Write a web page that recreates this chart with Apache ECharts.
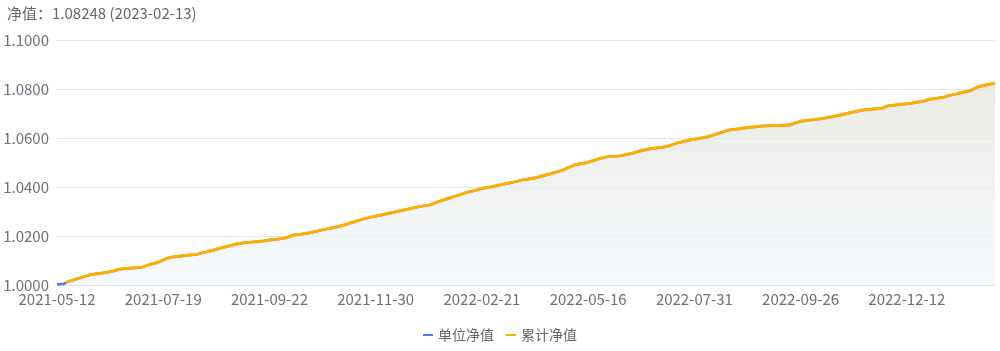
<!DOCTYPE html>
<html>
<head>
<meta charset="utf-8">
<script src="https://cdn.jsdelivr.net/npm/echarts@6/dist/echarts.min.js"></script>
<style>
html,body{margin:0;padding:0;background:#fff;}
#chart{width:1000px;height:351px;}
</style>
</head>
<body>
<div id="chart"></div>
<script>
// Dates present in the series, grouped by month (day numbers)
const monthDays = [
  "2021-05|12 13 14 17 18 19 20 21 24 25 26 27 28 31",
  "2021-06|1 2 3 4 7 8 9 10 11 15 16 17 18 21 22 23 24 25 28 29 30",
  "2021-07|1 2 5 6 7 8 9 12 13 14 15 16 19 20 21 22 23 26 27 28 29 30",
  "2021-08|2 3 4 5 6 9 10 11 12 13 16 17 18 19 20 23 24 25 26 27 30 31",
  "2021-09|1 2 3 6 7 8 9 10 13 14 15 16 17 20 21 22 23 24 26 27 28 29 30",
  "2021-10|8 9 11 12 13 14 15 18 19 20 21 22 25 26 27 28 29 31",
  "2021-11|1 2 3 4 5 8 9 10 11 12 15 16 17 18 19 22 23 24 25 26 29 30",
  "2021-12|1 2 3 6 7 8 9 10 13 14 15 16 17 20 21 22 23 27 28 29 30",
  "2022-01|4 5 6 7 10 11 12 13 14 17 18 19 20 21 24 25 26 27",
  "2022-02|10 11 14 15 16 17 18 21 22 23 24 25 28",
  "2022-03|1 2 3 7 8 9 10 14 15 16 17 21 22 23 24 28 29 30 31",
  "2022-04|6 7 11 12 13 14 18 19 20 21 25 26 27 28 29",
  "2022-05|5 6 9 10 11 12 13 16 17 18 19 23 24 25 26 30 31",
  "2022-06|1 2 6 7 8 9 13 14 15 16 20 21 22 23 27 28 29 30",
  "2022-07|1 4 5 6 7 11 12 13 14 18 19 20 21 22 25 26 27 28 29 31",
  "2022-08|1 2 3 4 5 7 8 9 10 11 12 14 15 16 17 18 19 21 22 23 24 25 26 28 29 30 31",
  "2022-09|1 2 4 5 6 7 8 9 11 12 13 14 15 16 19 20 21 22 23 26 27 28 29 30",
  "2022-10|10 11 12 13 17 18 19 20 21 24 25 26 27 28 31",
  "2022-11|1 2 3 4 7 8 9 10 14 15 16 17 18 21 22 23 24 25 28 29 30",
  "2022-12|1 2 5 6 7 8 12 13 14 15 16 19 20 21 22 23 26 27 28 29 30",
  "2023-01|3 4 5 6 9 10 11 12 13 16 17 18 19 20 30 31",
  "2023-02|1 2 3 6 7 8 9 10 13"
];

// 单位净值 (unit NAV), one value per date
const unitNav = [
1.0003,1.0003,1.0004,1.0004,1.0010,1.0014,1.0017,1.0020,1.0023,1.0026,
1.0028,1.0031,1.0034,1.0037,1.0040,1.0042,1.0043,1.0045,1.0046,1.0047,
1.0049,1.0050,1.0052,1.0053,1.0055,1.0057,1.0060,1.0062,1.0064,1.0066,
1.0067,1.0067,1.0068,1.0069,1.0069,1.0070,1.0071,1.0072,1.0074,1.0077,
1.0080,1.0083,1.0086,1.0088,1.0091,1.0094,1.0098,1.0102,1.0106,1.0109,
1.0112,1.0114,1.0115,1.0116,1.0117,1.0118,1.0119,1.0120,1.0121,1.0122,
1.0123,1.0124,1.0125,1.0128,1.0131,1.0133,1.0135,1.0138,1.0140,1.0142,
1.0145,1.0147,1.0149,1.0152,1.0154,1.0157,1.0159,1.0161,1.0164,1.0166,
1.0168,1.0169,1.0171,1.0172,1.0173,1.0174,1.0175,1.0176,1.0177,1.0178,
1.0179,1.0180,1.0181,1.0183,1.0184,1.0185,1.0186,1.0187,1.0188,1.0190,
1.0191,1.0192,1.0195,1.0198,1.0201,1.0204,1.0205,1.0206,1.0207,1.0209,
1.0210,1.0211,1.0213,1.0215,1.0217,1.0219,1.0222,1.0224,1.0226,1.0228,
1.0230,1.0232,1.0234,1.0236,1.0238,1.0240,1.0243,1.0245,1.0248,1.0251,
1.0254,1.0256,1.0259,1.0262,1.0265,1.0268,1.0271,1.0273,1.0275,1.0277,
1.0279,1.0281,1.0283,1.0285,1.0287,1.0289,1.0291,1.0293,1.0295,1.0297,
1.0299,1.0301,1.0303,1.0305,1.0307,1.0309,1.0311,1.0313,1.0315,1.0317,
1.0319,1.0321,1.0323,1.0324,1.0326,1.0327,1.0330,1.0334,1.0337,1.0341,
1.0344,1.0347,1.0350,1.0353,1.0356,1.0359,1.0362,1.0365,1.0368,1.0371,
1.0374,1.0377,1.0379,1.0382,1.0384,1.0387,1.0389,1.0392,1.0394,1.0396,
1.0397,1.0399,1.0400,1.0402,1.0404,1.0406,1.0408,1.0410,1.0412,1.0414,
1.0416,1.0418,1.0420,1.0422,1.0424,1.0427,1.0429,1.0431,1.0432,1.0434,
1.0435,1.0437,1.0438,1.0441,1.0443,1.0446,1.0448,1.0451,1.0453,1.0456,
1.0459,1.0461,1.0464,1.0467,1.0470,1.0474,1.0478,1.0482,1.0486,1.0490,
1.0492,1.0494,1.0496,1.0497,1.0499,1.0501,1.0504,1.0507,1.0510,1.0513,
1.0516,1.0518,1.0521,1.0523,1.0524,1.0524,1.0525,1.0526,1.0526,1.0527,
1.0529,1.0531,1.0533,1.0535,1.0537,1.0539,1.0542,1.0544,1.0547,1.0549,
1.0551,1.0553,1.0555,1.0557,1.0558,1.0559,1.0560,1.0561,1.0562,1.0564,
1.0566,1.0569,1.0572,1.0575,1.0578,1.0581,1.0583,1.0586,1.0588,1.0590,
1.0592,1.0594,1.0595,1.0597,1.0598,1.0600,1.0601,1.0603,1.0605,1.0608,
1.0611,1.0614,1.0617,1.0620,1.0623,1.0626,1.0629,1.0632,1.0634,1.0635,
1.0636,1.0637,1.0638,1.0640,1.0641,1.0642,1.0643,1.0644,1.0645,1.0646,
1.0647,1.0648,1.0649,1.0649,1.0650,1.0650,1.0650,1.0651,1.0651,1.0651,
1.0652,1.0652,1.0652,1.0653,1.0653,1.0656,1.0659,1.0662,1.0665,1.0668,
1.0669,1.0670,1.0671,1.0672,1.0674,1.0675,1.0676,1.0678,1.0679,1.0681,
1.0682,1.0684,1.0686,1.0687,1.0689,1.0691,1.0693,1.0695,1.0697,1.0699,
1.0701,1.0703,1.0705,1.0707,1.0709,1.0711,1.0713,1.0714,1.0715,1.0716,
1.0717,1.0718,1.0718,1.0719,1.0720,1.0721,1.0725,1.0729,1.0732,1.0733,
1.0734,1.0735,1.0736,1.0737,1.0738,1.0739,1.0740,1.0741,1.0742,1.0744,
1.0745,1.0747,1.0748,1.0750,1.0752,1.0755,1.0758,1.0759,1.0760,1.0762,
1.0763,1.0765,1.0766,1.0769,1.0772,1.0774,1.0776,1.0778,1.0780,1.0783,
1.0785,1.0787,1.0789,1.0791,1.0793,1.0797,1.0802,1.0807,1.0810,1.0812,
1.0814,1.0816,1.0818,1.0820,1.0822,1.08248
];

// 累计净值 (accumulated NAV): same readings, first points not shown in the picture
const accNavMissing = 4;

const yTicks = { min: 1.0, max: 1.1, step: 0.02 };
const titleText = '净值：1.08248 (2023-02-13)';
const seriesNames = ['单位净值', '累计净值'];

const dates = [];
monthDays.forEach(function (row) {
  const parts = row.split('|');
  parts[1].split(' ').forEach(function (d) {
    dates.push(parts[0] + '-' + (d.length < 2 ? '0' + d : d));
  });
});
const accNav = unitNav.map(function (v, i) { return i < accNavMissing ? null : v; });

const chart = echarts.init(document.getElementById('chart'), null, { renderer: 'canvas' });
const font = '"Noto Sans CJK SC", "Noto Sans", sans-serif';
chart.setOption({
  animation: false,
  title: {
    text: titleText,
    left: 2, top: 1,
    textStyle: { fontSize: 15, fontWeight: 'normal', color: '#666', fontFamily: font }
  },
  legend: {
    data: seriesNames,
    bottom: 4,
    left: 'center',
    icon: 'rect',
    itemWidth: 10,
    itemHeight: 2,
    itemGap: 12,
    textStyle: { fontSize: 14, color: '#666', fontFamily: font }
  },
  grid: { left: 57, right: 5, top: 40, bottom: 66 },
  xAxis: {
    type: 'category',
    data: dates,
    boundaryGap: false,
    axisLine: { lineStyle: { color: '#E0E6F1' } },
    axisTick: { show: false },
    axisLabel: { interval: 46, fontSize: 15, color: '#6E7079', fontFamily: font, margin: 7 }
  },
  yAxis: {
    type: 'value',
    min: yTicks.min, max: yTicks.max, interval: yTicks.step,
    axisLine: { show: false },
    axisTick: { show: false },
    splitLine: { lineStyle: { color: '#E0E6F1' } },
    axisLabel: {
      fontSize: 15, color: '#6E7079', fontFamily: font, margin: 8,
      formatter: function (v) { return v.toFixed(4); }
    }
  },
  series: [
    {
      name: seriesNames[0], type: 'line', data: unitNav,
      showSymbol: false, symbol: 'none',
      lineStyle: { width: 2.5, color: '#4A7CF6' },
      itemStyle: { color: '#4A7CF6' },
      areaStyle: {
        color: new echarts.graphic.LinearGradient(0, 0, 0, 1, [
          { offset: 0, color: '#E3E2DA' },
          { offset: 1, color: '#F1F7FE' }
        ])
      }
    },
    {
      name: seriesNames[1], type: 'line', data: accNav,
      showSymbol: false, symbol: 'none',
      lineStyle: { width: 3, color: '#FFAD00' },
      itemStyle: { color: '#FFAD00' }
    }
  ]
});
</script>
</body>
</html>
